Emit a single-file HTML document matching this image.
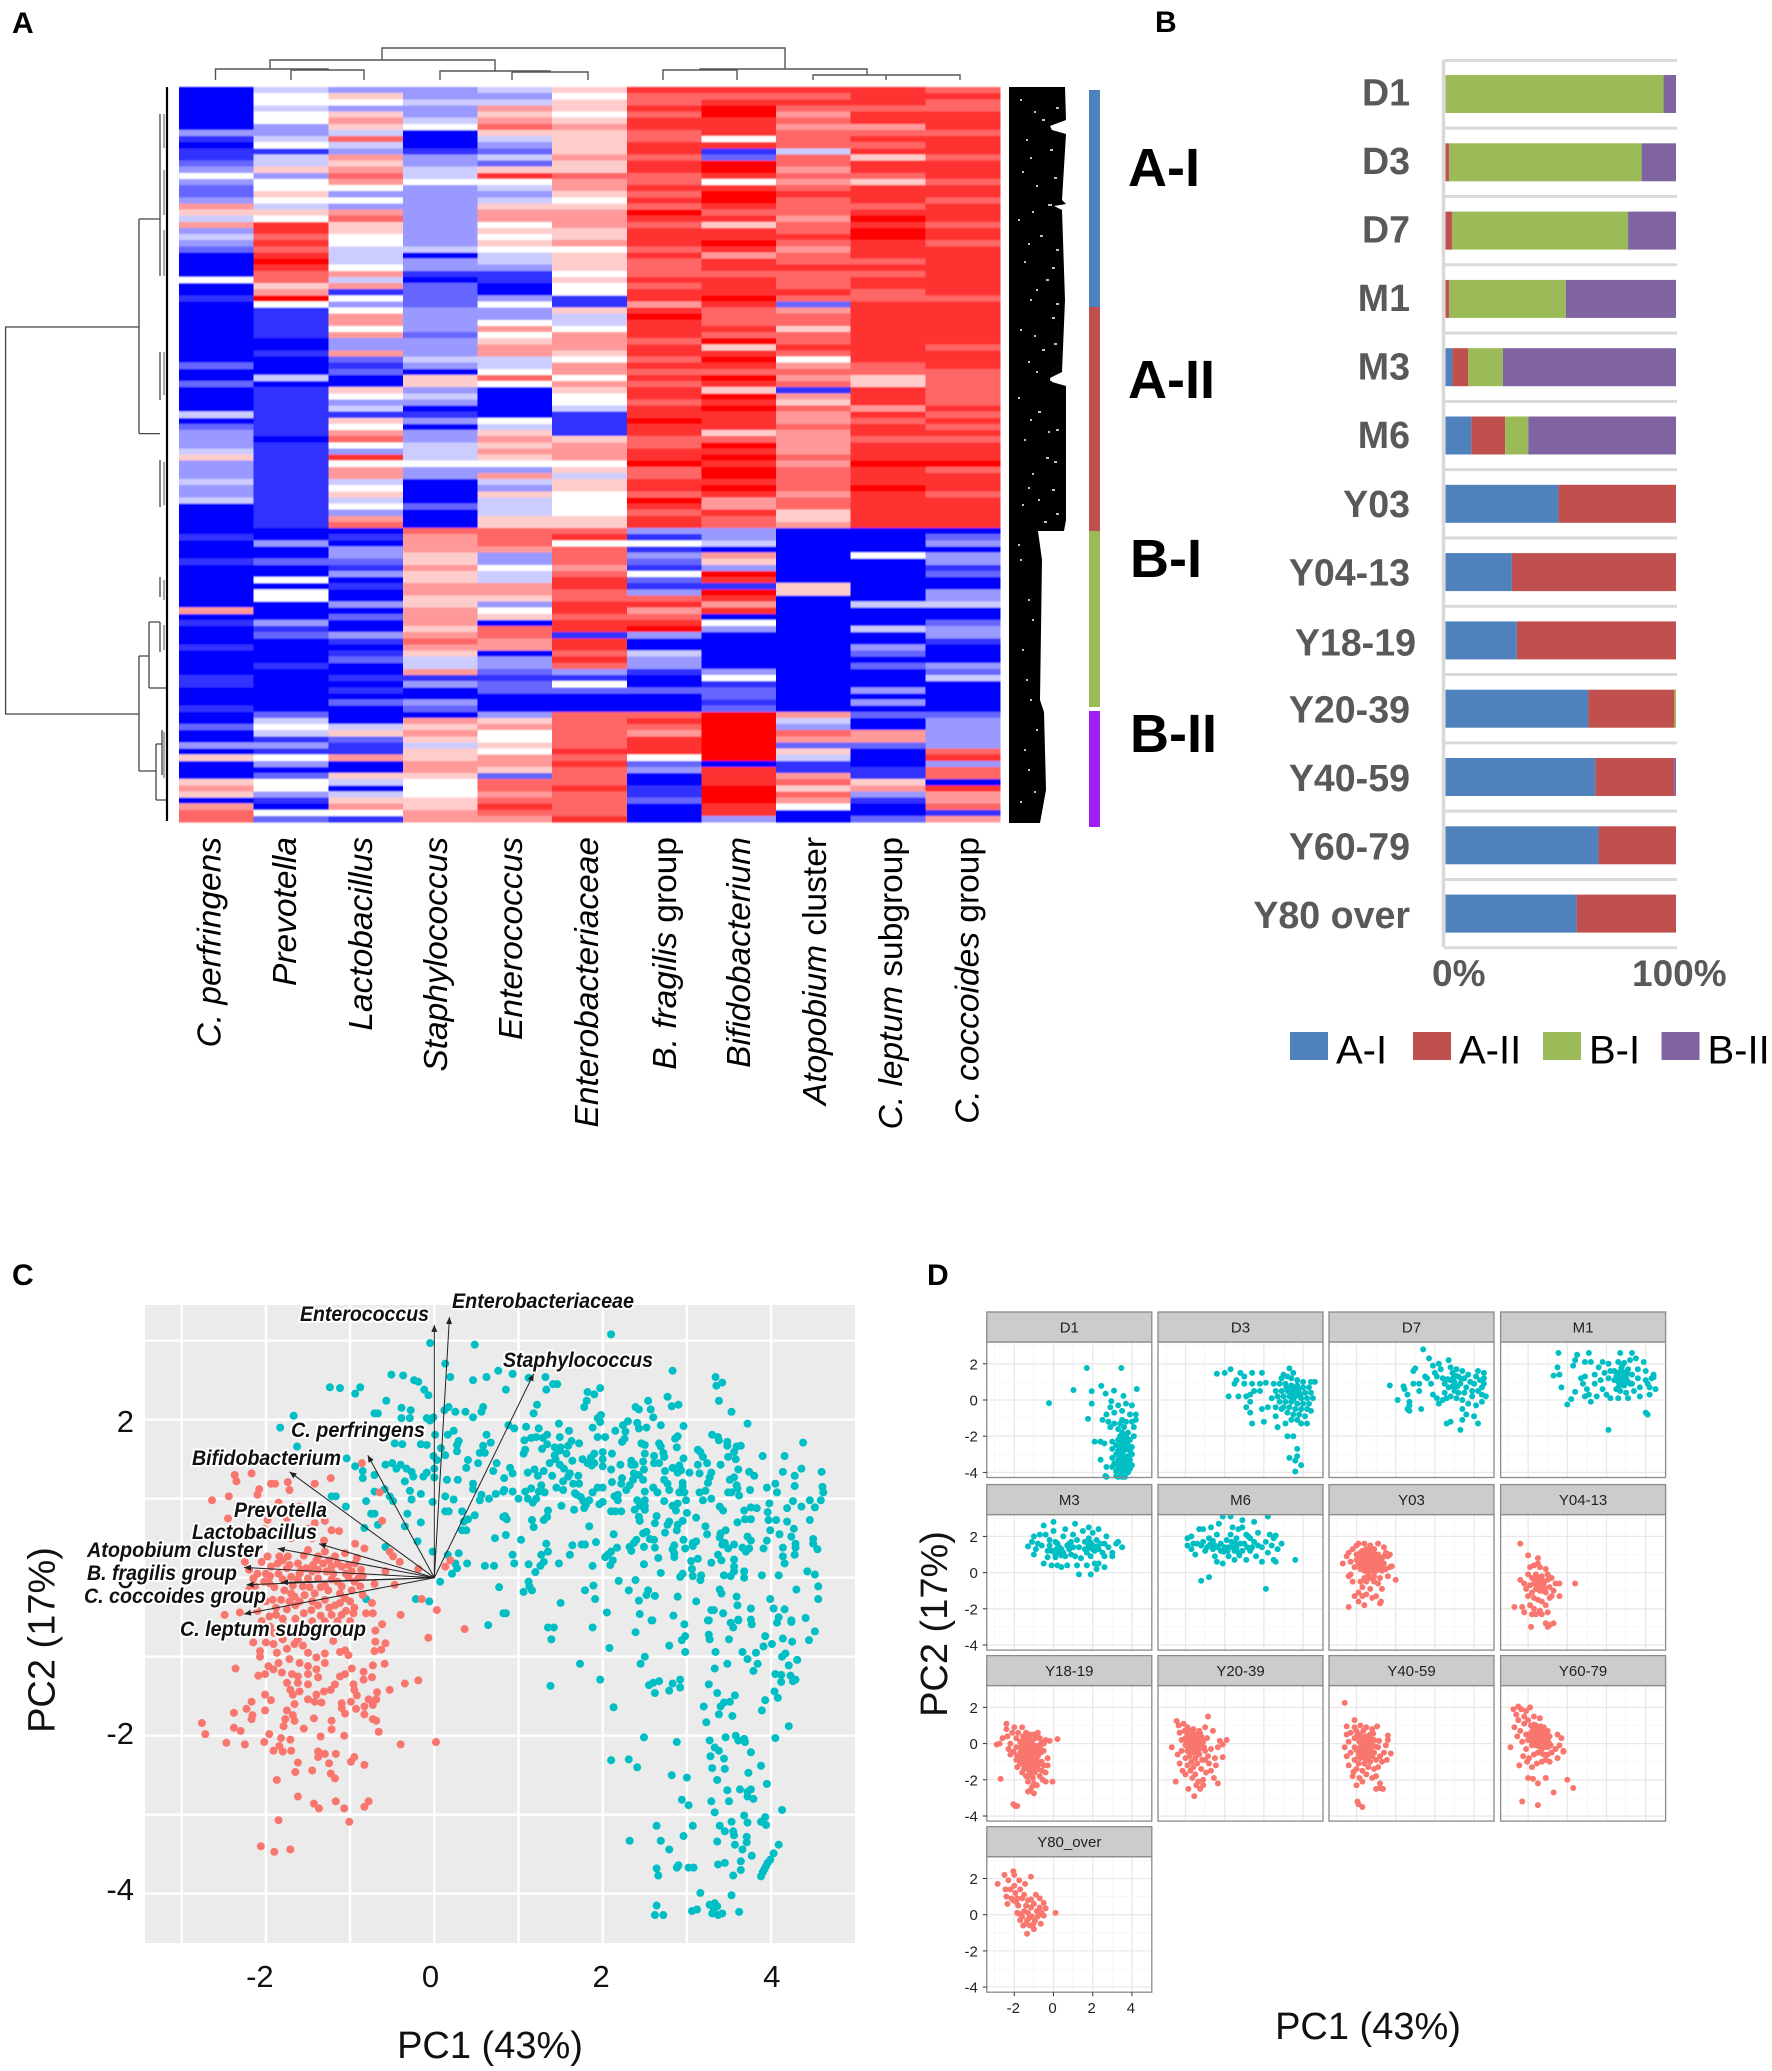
<!DOCTYPE html>
<html lang="en">
<head>
<meta charset="utf-8">
<title>Panels A-D</title>
<style>
html,body{margin:0;padding:0;background:#fff}
svg{display:block;font-family:"Liberation Sans",sans-serif}
.halo{paint-order:stroke;stroke:#fff;stroke-width:4px;stroke-linejoin:round;font-size:21px;font-weight:bold;fill:#111}
.it{font-style:italic}
.hl{font-size:33.5px;fill:#000}
.bl{font-size:37.6px;font-weight:bold;fill:#595959}
.gl{font-size:54px;font-weight:bold;fill:#000}
.lg{font-size:40px;fill:#000}
.pl{font-size:30px;font-weight:bold;fill:#000}
.ax{font-size:38px;fill:#111}
.tk{font-size:31px;fill:#111}
</style>
</head>
<body>
<svg id="fig" xmlns="http://www.w3.org/2000/svg" width="1772" height="2071" viewBox="0 0 1772 2071">
<defs>
<filter id="soft" filterUnits="userSpaceOnUse" x="170" y="80" width="840" height="750"><feGaussianBlur stdDeviation="0 0.9"/></filter>
</defs>
<rect width="1772" height="2071" fill="#fff"/>
<text class="pl" x="12" y="33">A</text>
<text class="pl" x="1155" y="32">B</text>
<text class="pl" x="12" y="1285">C</text>
<text class="pl" x="927" y="1285">D</text>

<g id="heat" filter="url(#soft)"></g>
<path fill="none" stroke="#555" stroke-width="1.4" d="M382 60V48H785V69M270 69V60H495V71M215.5 80V69H328V70M291 80V70H364V80M440 80V71H550V72M512 80V72H588V80M700 70V69H867V75M663 80V70H737V80M813 80V75H960V80M886 80V75"/>
<path fill="none" stroke="#444" stroke-width="1.3" d="M139 327H5.6V714H139M139 219V433.6M139 219H160M139 433.6H160M160 114V170M160 166V217M160 217V276M160 352V400M160 460V507M139 656V771M139 656H149M139 771H156M149 622V688M149 622H160M149 688H166M156 744V800M156 744H162M156 800H166M160 577V597M160 622V652M162 730V775"/>
<path fill="none" stroke="#000" stroke-width="2.2" d="M167 87V821"/>
<path fill="none" stroke="#aaa" stroke-width="2" d="M164 114V148M164 170V215M164 230V276M164 352V395M164 462V505M164 580V600M164 625V650M164 732V778"/>
<path fill="#000" d="M1009 87H1065L1066 120L1050 126L1052 130L1066 134L1062 200L1066 204L1054 206L1062 210L1065 300L1062 372L1050 378L1052 382L1066 386L1066 520L1064 531H1038L1042 560L1040 700L1044 712L1046 790L1040 823H1009Z"/>
<path fill="none" stroke="#fff" stroke-width="1.6" d="M1020 100h2M1042 120h3M1026 140h2M1050 150h3M1022 172h2M1036 186h2M1048 205h4M1018 220h2M1040 236h3M1056 250h3M1024 262h2M1046 280h3M1030 300h2M1052 318h3M1020 330h2M1042 350h3M1028 362h2M1050 380h4M1018 398h2M1038 412h3M1056 430h3M1024 440h2M1046 458h3M1032 474h2M1052 490h3M1022 505h2M1044 522h3M1020 560h2M1028 600h2M1022 650h2M1030 700h2M1024 750h2M1034 792h2M1028 770h2M1034 112h2M1056 108h3M1030 158h2M1054 178h3M1032 212h2M1028 244h2M1052 268h3M1036 290h2M1056 304h3M1034 336h2M1054 344h3M1036 372h2M1030 420h2M1048 432h2M1054 462h3M1028 488h2M1038 500h2M1056 514h3M1018 545h2M1032 620h2M1026 680h2M1036 730h2M1020 802h2"/>
<rect x="1089" y="90" width="11" height="217" fill="#4f81bd"/>
<rect x="1089" y="307" width="11" height="224" fill="#c0504d"/>
<rect x="1089" y="531" width="11" height="176" fill="#9bbb59"/>
<rect x="1089" y="711" width="11" height="116" fill="#a020f0"/>
<text class="gl" x="1128" y="186">A-I</text>
<text class="gl" x="1128" y="398">A-II</text>
<text class="gl" x="1130" y="577">B-I</text>
<text class="gl" x="1130" y="752">B-II</text>

<g text-anchor="end">
<text class="hl it" transform="translate(220.5,837) rotate(-90)">C. perfringens</text>
<text class="hl it" transform="translate(296,837) rotate(-90)">Prevotella</text>
<text class="hl it" transform="translate(372,837) rotate(-90)">Lactobacillus</text>
<text class="hl it" transform="translate(447,837) rotate(-90)">Staphylococcus</text>
<text class="hl it" transform="translate(522,837) rotate(-90)">Enterococcus</text>
<text class="hl it" transform="translate(598,837) rotate(-90)">Enterobacteriaceae</text>
<text class="hl" transform="translate(676,837) rotate(-90)"><tspan class="it">B. fragilis</tspan> group</text>
<text class="hl it" transform="translate(750,837) rotate(-90)">Bifidobacterium</text>
<text class="hl" transform="translate(826,837) rotate(-90)"><tspan class="it">Atopobium</tspan> cluster</text>
<text class="hl" transform="translate(902,837) rotate(-90)"><tspan class="it">C. leptum</tspan> subgroup</text>
<text class="hl" transform="translate(978.5,837) rotate(-90)"><tspan class="it">C. coccoides</tspan> group</text>
</g>

<g id="bars"></g>

<g id="pca"></g>
<g>
<text class="halo it" x="300" y="1321" textLength="129" lengthAdjust="spacingAndGlyphs">Enterococcus</text>
<text class="halo it" x="452" y="1308" textLength="182" lengthAdjust="spacingAndGlyphs">Enterobacteriaceae</text>
<text class="halo it" x="503" y="1367" textLength="150" lengthAdjust="spacingAndGlyphs">Staphylococcus</text>
<text class="halo it" x="291" y="1437" textLength="134" lengthAdjust="spacingAndGlyphs">C. perfringens</text>
<text class="halo it" x="192" y="1465" textLength="149" lengthAdjust="spacingAndGlyphs">Bifidobacterium</text>
<text class="halo it" x="234" y="1517" textLength="93" lengthAdjust="spacingAndGlyphs">Prevotella</text>
<text class="halo it" x="192" y="1539" textLength="125" lengthAdjust="spacingAndGlyphs">Lactobacillus</text>
<text class="halo it" x="87" y="1557" textLength="175" lengthAdjust="spacingAndGlyphs">Atopobium cluster</text>
<text class="halo it" x="87" y="1580" textLength="150" lengthAdjust="spacingAndGlyphs">B. fragilis group</text>
<text class="halo it" x="84" y="1603" textLength="182" lengthAdjust="spacingAndGlyphs">C. coccoides group</text>
<text class="halo it" x="180" y="1636" textLength="186" lengthAdjust="spacingAndGlyphs">C. leptum subgroup</text>
</g>
<text class="ax" transform="translate(54.5,1640) rotate(-90)" text-anchor="middle">PC2 (17%)</text>
<text class="ax" x="490" y="2058" text-anchor="middle">PC1 (43%)</text>

<g id="facets"></g>
<text class="ax" transform="translate(947,1624) rotate(-90)" text-anchor="middle">PC2 (17%)</text>
<text class="ax" x="1368" y="2039" text-anchor="middle">PC1 (43%)</text>
</svg>

<script>
/* ---------- Panel A data: one hex digit per row, 0 = blue, 5 = white, a = red ---------- */
const heatColumns = ["C. perfringens","Prevotella","Lactobacillus","Staphylococcus","Enterococcus","Enterobacteriaceae","B. fragilis group","Bifidobacterium","Atopobium cluster","C. leptum subgroup","C. coccoides group"];
const heatCPerfringens = "0000000310"+"1123532237"+"6473432000"+"0500100000"+"0000020020"+"0004023334"+"6333433400"+"0001000100"+"0000070100"+"0100001100"+"0100200306"+"0006760788";
const heatPrevotella = "4554553345"+"1446355654"+"65998989a9"+"8867a51111"+"1001000401"+"1111111011"+"1111111111"+"1100300200"+"5055000312"+"0000100000"+"0024541315"+"3025531052";
const heatLactobacillus = "3653676484"+"3767875353"+"7866554445"+"7471535775"+"7337212006"+"5341657853"+"9577456453"+"7801033213"+"0100302003"+"1012001010"+"2000462117"+"0064046751";
const heatStaphylococcus = "3343345000"+"1334453333"+"3333334033"+"1022223333"+"2333430663"+"4301303344"+"4533000020"+"0087776676"+"6776677767"+"8764471300"+"3207676466"+"7765556677";
const heatEnterococcus = "4347678643"+"2426954346"+"7756565443"+"1100353357"+"5677445850"+"0000546767"+"6537436444"+"6688873354"+"4776356088"+"7703321220"+"0036755657"+"7628878987";
const heatEnterobacteriaceae = "6566567666"+"6766877656"+"7776675666"+"5655116445"+"7776577576"+"5541111677"+"7564665555"+"6689588878"+"9988998991"+"9989831520"+"0088888898"+"9888988889";
const heatBFragilis = "9889899889"+"9899889898"+"a989998988"+"8989979a99"+"9899898989"+"9899a99889"+"9a88998a98"+"9931513215"+"21389789a3"+"0043310020"+"0089879995"+"2300112000";
const heatBifidobacterium = "989aa99959"+"12aa959aa9"+"89699a9799"+"8999a98889"+"8a69a98a96"+"a9a99968a9"+"a9aa9a9779"+"883340763a"+"91a9790530"+"0000035122"+"12aaaaaaaa"+"0999aaa993";
const heatAtopobium = "9898787888"+"4887878988"+"8788987889"+"8889827886"+"8898578781"+"7687787777"+"8788887886"+"6700000000"+"0660000000"+"0000000000"+"0074387264"+"1178687500";
const heatCLeptum = "9998997898"+"9699869998"+"9a9aa99989"+"8998899999"+"9999988669"+"9979899899"+"9a999a9999"+"9900005000"+"0000400040"+"0320200030"+"3020077200"+"0116731002";
const heatCCoccoides = "8988999899"+"9899989989"+"9989989999"+"9999899999"+"9989998888"+"8898989899"+"9a89998999"+"9902303312"+"0033400233"+"1000324000"+"0023333389"+"3880977817";

/* ---------- Panel B data (percent of samples per cluster) ---------- */
const ageGroups = ["D1","D3","D7","M1","M3","M6","Y03","Y04-13","Y18-19","Y20-39","Y40-59","Y60-79","Y80 over"];
const clusterAI  = [0,0,0,0,3,11.2,49,28.8,30.9,62,65,66.4,56.9];
const clusterAII = [0,1.5,2.8,1.5,6.9,14.7,51,71.2,69.1,37.3,34.2,33.6,43.1];
const clusterBI  = [94.6,83.6,76.4,50.7,15,10,0,0,0,0.7,0,0,0];
const clusterBII = [5.4,14.9,20.8,47.8,75.1,64.1,0,0,0,0,0.8,0,0];
const clusterNames = ["A-I","A-II","B-I","B-II"];

/* ---------- Panel C data: [PC1, PC2] ---------- */
const pcaTicksX = [-2,0,2,4];
const pcaTicksY = [-4,-2,0,2];
const loadingNames = ["Enterococcus","Enterobacteriaceae","Staphylococcus","C. perfringens","Bifidobacterium","Prevotella","Lactobacillus","Atopobium cluster","B. fragilis group","C. coccoides group","C. leptum subgroup"];
const loadingPC1 = [0,0.18,1.18,-0.79,-1.72,-1.37,-1.82,-1.86,-2.26,-2.23,-2.26];
const loadingPC2 = [3.2,3.3,2.58,1.55,1.34,0.43,-0.06,0.37,0.13,-0.09,-0.46];
const infantPoints = [[-.05,2.97],[.48,2.95],[.13,2.71],[-.51,2.57],[-.37,2.56],[-.24,2.5],[-.19,2.48],[-.12,2.38],[-.07,2.31],[.19,2.54],[.46,2.5],[.62,2.54],[.76,2.62],[-1.24,2.41],[-1.12,2.4],[-.88,2.41],[-.94,2.33],[-.57,2.24],[-.39,2.15],[-.28,2.12],[-.71,2.08],[-.67,2.08],[-1.67,2.05],[-.39,2.02],[-.29,2.02],[-.09,2.02],[-.01,2.03],[-.05,1.99],[.17,2.16],[.12,2.12],[.25,2.1],[.37,2.1],[.58,2.16],[.56,2.1],[.46,2.03],[-1.83,1.9],[.01,1.81],[.16,1.81],[.23,1.86],[.62,1.81],[.67,1.71],[.29,1.73],[.27,1.68],[.08,1.64],[.58,1.67],[-.47,1.7],[-.38,1.69],[-.16,1.69],[-.09,1.68],[.27,1.6],[.54,1.58],[.6,1.58],[-.01,1.54],[.13,1.55],[-1.63,1.66],[-1.04,1.51],[.4,1.49],[.52,1.45],[.03,1.49],[0,1.38],[.38,1.39],[.74,1.45],[.7,1.35],[-.94,1.41],[-.58,1.43],[-.5,1.45],[-.45,1.38],[-.4,1.43],[-.33,1.38],[-.27,1.34],[-.85,1.35],[-.85,1.26],[-.71,1.3],[-.09,1.33],[-.13,1.28],[0,1.27],[-.25,1.28],[-.35,1.22],[.15,1.24],[.28,1.24],[.46,1.19],[.46,1.12],[-.29,1.1],[-.16,1.06],[.56,1.05],[.65,1],[.73,1.06],[.82,1.09],[-.71,1.09],[-.59,1.12],[-.53,1.03],[-.49,.97],[-.27,.99],[.13,1.03],[.23,.99],[-.02,.96],[.54,.98],[-.81,.97],[-1.17,1.03],[-1.22,1.03],[-1.05,.9],[-.75,.81],[-.71,.81],[-.32,.81],[.13,.84],[.17,.84],[.33,.84],[.48,.79],[.4,.74],[.35,.71],[.82,.77],[-.16,.7],[-.67,.67],[-.35,.65],[-.83,.63],[.33,.6],[.38,.6],[.72,.5],[-.2,.46],[-.58,.39],[-.02,.33],[.29,.31],[.16,.29],[.39,.18],[.25,.18],[.27,.12],[.6,.15],[.71,.15],[.21,.05],[.07,-.05],[.77,-.12],[-.22,-.27],[-.06,-.3],[-.81,-.27],[.82,-.45],[.64,-.6],
[2.1,3.08],[2.83,2.62],[3.34,2.54],[3.42,2.47],[3.35,2.43],[3.38,2.24],[3.53,2.1],[3.72,1.95],[1.32,2.54],[1.12,2.53],[.93,2.58],[1.41,2.45],[1.46,2.45],[1.33,2.38],[.85,2.38],[1.97,2.4],[1.82,2.35],[1.9,2.32],[1.81,2.24],[1.78,2.16],[1.22,2.19],[1.18,2.08],[2.77,2.29],[2.54,2.24],[2.39,2.16],[2.43,2.13],[2.57,2.13],[2.82,2.17],[2.9,2.19],[2.6,2.03],[1.98,2.06],[1.94,2.02],[1.97,1.97],[1.48,1.95],[2.3,1.98],[2.24,1.93],[2.69,1.93],[2.96,1.92],[2.41,1.96],[2.43,1.89],[2.52,1.9],[1.88,1.9],[2.15,1.86],[2.27,1.85],[1.09,1.91],[1.24,1.89],[.88,1.93],[.95,1.89],[1.6,1.86],[1.34,1.81],[1.49,1.78],[1.94,1.78],[2.03,1.78],[2.89,1.79],[2.86,1.76],[3.3,1.81],[3.37,1.78],[3.38,1.74],[1.21,1.78],[1.15,1.77],[1.07,1.74],[1.29,1.77],[2.26,1.76],[2.23,1.72],[4.38,1.71],[3.48,1.72],[3.48,1.67],[2.46,1.7],[2.5,1.68],[2.67,1.7],[2.69,1.66],[2.88,1.65],[3.64,1.67],[3.59,1.66],[3.56,1.59],[3.13,1.62],[3.16,1.59],[1.34,1.69],[1.28,1.63],[1.63,1.73],[1.59,1.67],[1.72,1.7],[1.43,1.65],[1.5,1.65],[1.08,1.62],[1.06,1.57],[1.57,1.57],[1.43,1.55],[1.49,1.61],[2.11,1.57],[2,1.59],[1.9,1.57],[2.5,1.57],[2.61,1.54],[2.72,1.58],[2.73,1.53],[2.96,1.51],[3.19,1.53],[3.49,1.53],[3.58,1.5],[3.9,1.54],[4.16,1.54],[1.44,1.5],[1.64,1.48],[1.76,1.5],[1.86,1.52],[1.82,1.45],[1.9,1.45],[2,1.5],[2.34,1.48],[2.48,1.47],[2.61,1.45],[2.67,1.45],[1.37,1.45],[1.49,1.43],[1.54,1.38],[1.87,1.42],[2,1.41],[2.21,1.43],[2.34,1.43],[2.38,1.43],[3.13,1.43],[3.24,1.45],[3.4,1.43],[2.91,1.42],[2.83,1.39],[2.1,1.37],[2.49,1.37],[2.74,1.35],[2.93,1.36],[.9,1.39],[1.19,1.37],[1.3,1.35],[1.11,1.33],[.93,1.32],[3.61,1.37],[3.74,1.34],[3.8,1.29],[4.36,1.38],[4.14,1.34],[4.6,1.34],[4.28,1.29],[2.89,1.33],[3.03,1.33],[3.15,1.32],[3.29,1.33],[1.61,1.32],[1.71,1.29],[1.23,1.29],[1.4,1.29],[2.37,1.32],[2.43,1.3],[1.59,1.28],[.83,1.26],[3.27,1.27],[3.51,1.24],[3.56,1.27],[2.23,1.26],[2.48,1.24],[2.73,1.24],[3.25,1.2],[2.11,1.21],[2.36,1.24],[1.53,1.22],[1.65,1.19],[1.72,1.19],[2.95,1.2],[2.77,1.19],[3.59,1.17],[4.05,1.19],[4.28,1.16],[4.61,1.15],[1.27,1.17],[2.22,1.19],[2.32,1.17],[1.15,1.13],[1.45,1.14],[1.53,1.11],[1.94,1.14],[2,1.14],[2.6,1.14],[2.79,1.11],[2.95,1.15],[3.95,1.14],[3.75,1.11],[3.6,1.13],[.83,1.11],[.93,1.09],[1.08,1.09],[1.31,1.08],[1.24,1.09],[1.67,1.07],[1.88,1.08],[2.28,1.11],[2.5,1.09],[2.65,1.08],[2.91,1.08],[2.97,1.08],[3.15,1.08],[3.22,1.1],[3.49,1.08],[3.53,1.08],[4.07,1.08],[4.62,1.08],[2.18,1.05],[2.14,1.03],[1.69,1.05],[1.74,1.02],[3.62,1.04],[1,1],[1.11,1],[1.21,1],[1.77,.97],[1.84,.98],[2.18,.98],[2.41,.98],[2.5,.98],[2.73,.97],[2.99,.98],[3.29,1],[3.19,.98],[4.26,.97],[4.46,.98],[4.59,.98],[1.17,.95],[2,.96],[1.96,.93],[1.51,.91],[1.8,.92],[2.44,.91],[2.5,.91],[2.83,.91],[2.89,.94],[3.98,.94],[1.66,.86],[1.78,.88],[2.38,.86],[2.5,.86],[3.39,.9],[3.43,.85],[2.87,.85],[3.76,.89],[3.83,.88],[4.36,.9],[4.52,.89],[4.19,.88],[3.68,.85],[2.1,.84],[2.15,.84],[2.22,.84],[1.35,.85],[3.96,.83],[3,.82],[2.64,.78],[.84,.78],[1.34,.77],[.86,.74],[1.16,.73],[1.3,.73],[2.43,.77],[2.44,.72],[3.11,.76],[3.69,.74],[3.76,.74],[3.97,.73],[4.06,.73],[4.19,.71],[4.46,.73],[2.79,.71],[2.95,.72],[3.6,.7],[2.62,.69],[2.89,.67],[2.77,.67],[1.84,.65],[1.18,.64],[3.22,.65],[4.27,.62],[2.88,.6],[3.99,.6],[3.46,.6],[3.4,.56],[3.24,.55],[2.52,.58],[2.48,.56],[2.74,.57],[2.13,.55],[.85,.54],[4.1,.55],[3.39,.51],[3.72,.52],[4.24,.52],[2.56,.49],[2.61,.48],[2.96,.48],[1.03,.48],[4.5,.49],[3.76,.47],[2.4,.48],[1.92,.45],[3.07,.44],[3.95,.47],[1.33,.43],[3.45,.44],[3.11,.46],[2.37,.44],[4.5,.43],[1.75,.42],[1.79,.42],[1.64,.41],[4.29,.43],[3.42,.42],[3.56,.42],[2.85,.41],[2.17,.38],[2.49,.39],[2.32,.39],[2.62,.38],[3.07,.4],[3.49,.37],[3.66,.38],[4.14,.38],[3.74,.37],[4.29,.38],[2.83,.36],[2.98,.37],[3.91,.37],[4.55,.36],[2.34,.34],[2.1,.33],[1.35,.33],[3.7,.33],[2.85,.31],[3.37,.29],[1.27,.29],[1.61,.29],[.93,.29],[2.06,.29],[4.28,.29],[2.03,.26],[2.85,.26],[2.66,.25],[3.13,.24],[4.14,.27],[3.56,.23],[3.41,.22],[2.12,.22],[3.05,.21],[3.29,.19],[1.3,.2],[.95,.18],[1.12,.17],[1.48,.18],[2.49,.17],[4.16,.18],[2.09,.16],[1.26,.15],[1.88,.15],[3.56,.14],[3.06,.11],[3.56,.08],[3.68,.08],[4.43,.08],[1.2,.07],[2.69,.06],[2.95,.05],[3.17,.03],[3.44,.03],[3.52,.02],[3.89,.03],[4.09,.03],[4.52,.04],[2.92,.01],[3.07,.02],[3.68,0],[3.16,-.03],[1.12,-.05],[2.39,-.03],[2.19,-.04],[1.13,-.11],[1.89,-.1],[4.56,-.11],[3.39,-.15],[1.79,-.16],[4.3,-.15],[2.54,-.16],[2.31,-.16],[1.06,-.18],[1.16,-.16],[3.41,-.2],[2.52,-.22],[2.62,-.23],[3.59,-.24],[2.89,-.24],[1.91,-.27],[3.99,-.27],[4.56,-.27],[2.43,-.29],[3.11,-.3],[1.5,-.32],[3.6,-.35],[4.03,-.39],[3.76,-.39],[4.16,-.4],[3.32,-.41],[3.29,-.41],[3.43,-.45],[2.05,-.44],[.85,-.45],[2.44,-.46],[2.84,-.48],[4.09,-.5],[4.24,-.54],[4.41,-.51],[3.76,-.53],[3.61,-.53],[3.25,-.54],[2.58,-.54],
[1.35,-.63],[1.42,-.63],[1.39,-.78],[1.88,-.63],[2.39,-.69],[2.59,-.54],[2.97,-.59],[3.26,-.54],[3.52,-.57],[3.55,-.63],[3.61,-.54],[3.77,-.59],[4.07,-.57],[4.24,-.56],[4.52,-.68],[2.98,-.74],[2.94,-.79],[3.26,-.72],[3.27,-.78],[3.5,-.78],[3.93,-.74],[4.14,-.77],[4.25,-.81],[4.45,-.79],[4.01,-.84],[3.91,-.87],[2.79,-.86],[2.08,-.89],[2.98,-.94],[3.34,-.94],[3.66,-.94],[3.82,-.95],[4.17,-.96],[4.13,-1],[2.5,-1],[4.31,-1.04],[3.72,-1.03],[2.45,-1.09],[1.73,-1.09],[3.84,-1.09],[3.48,-1.09],[4.21,-1.11],[3.33,-1.15],[3.79,-1.18],[4.05,-1.22],[4.12,-1.23],[4.23,-1.24],[4.29,-1.29],[1.97,-1.29],[2.67,-1.31],[2.92,-1.29],[4.12,-1.32],[4.26,-1.31],[2.6,-1.33],[2.55,-1.36],[2.83,-1.34],[3.26,-1.35],[1.38,-1.37],[2.92,-1.39],[2.79,-1.43],[2.62,-1.46],[3.36,-1.46],[4.04,-1.44],[3.57,-1.49],[4.08,-1.52],[3.93,-1.55],[3.51,-1.57],[3.44,-1.58],[3.4,-1.63],[3.2,-1.63],[2.13,-1.64],[3.89,-1.68],[3.38,-1.73],[3.54,-1.75],[3.23,-1.83],[4.21,-1.88],[2.49,-2.02],[3.58,-2],[3.46,-2.02],[4.05,-2.03],[3.61,-2.06],[3.68,-2.04],[3.69,-2.08],[2.88,-2.08],[3.27,-2.06],[3.33,-2.15],[3.38,-2.19],[3.76,-2.21],[3.28,-2.26],[3.44,-2.29],[2.1,-2.31],[2.31,-2.3],[2.41,-2.4],[3.88,-2.38],[3.3,-2.41],[3.45,-2.42],[3.73,-2.47],[2.82,-2.5],[3,-2.53],[3.36,-2.56],[3.95,-2.61],[3.48,-2.69],[3.63,-2.68],[3.76,-2.68],[3.72,-2.71],[3.72,-2.77],[3.79,-2.8],[2.94,-2.81],[3.5,-2.83],[3.29,-2.83],[3.02,-2.88],[4.13,-2.94],[3.33,-2.97],[3.68,-3.01],[3.93,-3.03],[3.88,-3.09],[3.53,-3.09],[3.72,-3.1],[3.94,-3.13],[2.64,-3.14],[3.07,-3.14],[3.39,-3.14],[3.45,-3.21],[3.55,-3.21],[3.56,-3.26],[2.96,-3.27],[3.71,-3.28],[2.32,-3.33],[2.69,-3.33],[3.36,-3.34],[3.71,-3.35],[3.57,-3.38],[4.09,-3.38],[3.66,-3.44],[2.79,-3.44],[4.03,-3.49],[3.77,-3.52],[3.99,-3.57],[3.64,-3.59],[3.96,-3.61],[3.45,-3.61],[3.37,-3.63],[3.94,-3.65],[2.9,-3.64],[2.88,-3.67],[3.02,-3.67],[3.08,-3.67],[2.64,-3.68],[3.92,-3.69],[3.64,-3.7],[3.9,-3.73],[3.55,-3.77],[3.88,-3.78],[2.66,-3.77],[3.16,-3.99],[3.53,-4.02],[2.64,-4.15],[3.27,-4.14],[3.33,-4.12],[3.36,-4.16],[3.32,-4.19],[3.12,-4.2],[3.06,-4.22],[3.3,-4.25],[3.42,-4.25],[3.62,-4.23],[3.37,-4.27],[2.62,-4.27],[2.72,-4.27]];
const adultPoints = [[-2.37,1.3],[-2.17,1.32],[-2.35,1.22],[-.86,1.45],[-1.23,1.26],[-1.42,1.19],[-1.94,1.19],[-1.89,1.19],[-1.74,1.21],[-2.08,1.12],[-2.1,1.05],[-1.72,1.11],[-2.44,1.03],[-2.64,.98],[-.65,1.08],[-.62,.72],[-1.22,.6],[-1.13,.59],[-1.98,.73],[-1.42,.69],[-1.31,.47],[-.94,.43],[-.83,.37],[-.53,.33],[-.49,.27],[-.41,.2],[-.19,.11],[.13,.14],[.19,.22],[-.58,.08],[-.47,-.09],[-.71,-.08],[-.15,-.27],[.03,-.41],[-.4,-.47],[-.74,-.32],[-.81,-.45],[-.73,-.45],
[-1.5,.35],[-1.3,.33],[-1.18,.27],[-1.06,.31],[-.94,.18],[-.87,.1],[-1.02,.01],[-1.1,-.11],[-1.26,-.16],[-1.38,-.01],[-1.5,-.01],[-1.62,.18],[-1.74,.27],[-1.86,.18],[-1.98,.27],[-1.94,.14],[-2.1,.05],[-2.15,-.01],[-2.13,-.11],[-1.96,-.07],[-1.78,-.16],[-1.66,-.24],[-1.54,-.22],[-1.42,-.2],[-1.3,-.28],[-1.18,-.35],[-1.06,-.26],[-.98,-.16],[-.88,-.11],[-1.82,-.28],[-1.7,-.2],[-1.92,-.28],[-1.96,-.49],[-1.88,-.47],[-2.31,-.44],[-2.49,-.47],[-1.46,-.41],[-1.22,-.47],[-1.1,-.47],[-.96,-.45],[-1.58,.1],[-1.7,.01],[-1.44,.16],[-1.32,.18],[-1.1,.14],[-.98,.08],[-1.56,-.11],[-1.22,.14],[-1.38,.27],[-1.84,.27],[-1.6,.05],[-1.45,.08],[-1.2,.05],[-1.75,.12],[-2,.05],[-1.9,-.12],[-2.05,-.2],[-1.65,-.35],[-1.3,-.1],[-1.15,-.05],[-.9,0],[-1,-.3],[-1.38,-.35],[-1.05,-.42],[-1.75,-.4],[-1.55,-.45],[-1.35,-.48],[-2.15,-.25],[-2.2,.1],
[-2.25,.2],[-2.2,-.15],[-2.05,.2],[-2.02,-.05],[-1.95,.02],[-1.85,.05],[-1.8,.22],[-1.8,-.02],[-1.72,.16],[-1.68,-.1],[-1.62,-.02],[-1.55,.28],[-1.52,.12],[-1.48,-.12],[-1.4,.22],[-1.38,.1],[-1.35,-.12],[-1.28,.08],[-1.25,.22],[-1.22,-.02],[-1.15,.18],[-1.12,-.2],[-1.05,.05],[-1.02,.16],[-.95,-.05],[-.92,.25],[-.85,.02],[-2,-.3],[-1.88,-.38],[-1.72,-.3],[-1.6,-.3],[-1.45,-.3],[-1.25,-.38],[-1.12,-.32],[-.95,-.38],[-.85,-.22],[-2.1,-.42],[-1.8,-.52],[-1.65,-.52],[-1.45,-.55],[-1.3,-.55],[-1.15,-.55],[-1,-.55],[-2.05,-.55],[-1.95,-.62],[-1.58,-.62],[-1.4,-.72],[-1.2,-.8],[-1.62,-.78],[-1.8,-.78],[-2,-.82],[-2.02,.62],[-1.75,.75],[-1.6,.9],[-1.5,.62],[-1.3,.72],[-1.85,.95],[-2.15,.55],[-1.7,.5],[-1.45,.5],[-2.45,.75],[-1.9,.55],[-1.55,.55],
[-.62,-.59],[-.7,-.67],[-.7,-.81],[-.58,-.83],[-.71,-.93],[-.63,-.91],[-.07,-.76],[.36,-.65],[-2.15,-.82],[-2.07,-.93],[-2.07,-1],[-1.91,-.84],[-1.87,-.95],[-1.75,-.9],[-1.66,-.84],[-1.56,-.86],[-1.5,-.95],[-1.4,-1.01],[-1.3,-.96],[-1.12,-.94],[-1.06,-.92],[-1.02,-.98],[-1.3,-1.08],[-1.72,-1.03],[-1.85,-1.08],[-1.97,-1.12],[-1.91,-1.16],[-2.36,-1.15],[-2.09,-1.24],[-2.01,-1.22],[-1.81,-1.2],[-1.69,-1.22],[-1.6,-1.08],[-1.5,-1.12],[-1.4,-1.16],[-1.38,-1.26],[-1.62,-1.25],[-1.5,-1.22],[-1.75,-1.33],[-1.62,-1.33],[-1.5,-1.35],[-1.71,-1.42],[-1.6,-1.44],[-1.68,-1.48],[-1.18,-1.35],[-1.23,-1.42],[-1.31,-1.44],[-1.06,-1.22],[-1.12,-1.25],[-.98,-1.15],[-.84,-1.19],[-.74,-1.26],[-.84,-1.29],[-.73,-1.11],[-.59,-1.09],[-.96,-1.35],[-.95,-1.42],[-.92,-1.49],[-.68,-1.45],[-.53,-1.42],[-.35,-1.34],[-.19,-1.3],[-.78,-1.54],[-.69,-1.54],[-.73,-1.61],[-.99,-1.57],[-1.1,-1.59],[-1.1,-1.65],[-1.06,-1.72],[-.93,-1.66],[-.83,-1.63],[-.83,-1.73],[-.73,-1.79],[-.69,-1.81],[-.66,-1.95],[-1.4,-1.48],[-1.5,-1.54],[-1.42,-1.57],[-1.34,-1.58],[-1.66,-1.6],[-1.75,-1.68],[-1.68,-1.74],[-1.77,-1.79],[-1.66,-1.81],[-1.79,-1.88],[-1.43,-1.78],[-1.22,-1.81],[-1.22,-1.92],[-1.55,-1.91],[-2.01,-1.48],[-1.94,-1.55],[-2.17,-1.57],[-2.23,-1.66],[-2.38,-1.71],[-2.01,-1.68],[-2.16,-1.74],[-2.17,-1.79],[-2.76,-1.84],[-2.38,-1.9],[-2.3,-1.94],[-2.72,-1.98],[-2.47,-2.09],[-2.25,-2.11],[-2.02,-2.08],[-1.96,-1.98],[-1.82,-2.03],[-1.71,-2.05],[-1.35,-2.01],[-1.07,-2],[-.4,-2.11],[.02,-2.08],[-1.91,-2.19],[-1.84,-2.13],[-1.8,-2.2],[-1.7,-2.19],[-1.38,-2.2],[-1.38,-2.27],[-1.3,-2.23],[-1.17,-2.23],[-.95,-2.27],[-.99,-2.33],[-.83,-2.37],[-1.25,-2.35],[-1.62,-2.34],[-1.45,-2.44],[-1.65,-2.46],[-1.23,-2.48],[-1.18,-2.54],[-1.87,-2.56],[-1.62,-2.77],[-1.43,-2.86],[-1.37,-2.92],[-1.17,-2.83],[-1.07,-2.92],[-.83,-2.9],[-.78,-2.83],[-1.85,-3.07],[-1.01,-3.09],[-2.06,-3.4],[-1.9,-3.47],[-1.71,-3.44],[-1.9,-.7],[-1.7,-.65],[-1.5,-.7],[-1.3,-.65],[-1.1,-.7],[-.9,-.62],[-2.1,-.7],[-1.8,-.6]];

/* ---------- Panel D data: [PC1, PC2] per age facet ---------- */
const facetNames = ["D1","D3","D7","M1","M3","M6","Y03","Y04-13","Y18-19","Y20-39","Y40-59","Y60-79","Y80_over"];
const facetTicksX = [-2,0,2,4];
const facetTicksY = [2,0,-2,-4];
const facetD1 = [[-.23,-.17],[1.7,1.77],[3.46,1.77],[1.02,.55],[2.44,.78],[1.95,.49],[4.25,.61],[2.66,.35],[3.09,.52],[3.57,.23],[1.95,-.2],[2.95,-.06],[1.76,-1.04],[2.9,-.4],[3.3,-.3],[3.7,-.2],[4,-.3],[3.5,-.6],[3.1,-.7],[2.7,-.8],[3.9,-.8],[4.2,-.8],[4.2,-1.1],[2.5,-1.1],[2.8,-1.2],[3.1,-1.3],[3.4,-1.3],[3.7,-1.2],[4,-1.2],[4.1,-1.5],[3.6,-1.5],[3.3,-1.6],[2.9,-1.5],[3.5,-1.8],[3.8,-1.8],[3.4,-2],[3.7,-2],[4.1,-2],[3.3,-2.2],[3.6,-2.2],[3.9,-2.2],[2.1,-2.3],[2.4,-2.3],[2.6,-2.4],[3,-2.3],[3.2,-2.5],[3.5,-2.5],[3.8,-2.5],[4,-2.6],[3,-2.7],[3.3,-2.8],[3.6,-2.8],[3.9,-2.8],[3.2,-3],[3.5,-3],[3.8,-3.1],[4,-3],[2.4,-3.3],[3,-3.2],[3.3,-3.3],[3.6,-3.3],[3.9,-3.3],[3.1,-3.5],[3.4,-3.6],[3.7,-3.6],[4,-3.6],[2.7,-3.7],[3,-3.7],[3.3,-3.8],[3.6,-3.8],[3.9,-3.8],[3.2,-3.95],[3.5,-4],[3.8,-4],[2.65,-4.2],[2.7,-4.25],[3.2,-4.2],[3.3,-4.25],[3.4,-4.2],[3.5,-4.25],[3.65,-4.25],[3.6,-2.4],[3.5,-1.1],[3.45,-2.3],[3.75,-2.3],[3.55,-2.65],[3.35,-2.6],[3.75,-2.65],[3.45,-3.15],[3.7,-3.15],[3.55,-3.45],[3.25,-3.55],[3.85,-3.45]];
const facetD3 = [[-.4,1.45],[0,1.5],[.3,1.7],[.8,1.5],[.6,1.1],[1,1.3],[1.4,1.5],[1.9,1.5],[.5,.9],[1,.9],[1.4,.9],[1.8,.9],[2.1,.95],[.2,.2],[.7,.2],[1.1,.2],[1.3,.3],[1.5,.5],[1.8,.5],[1.3,-.1],[1.1,-.4],[1.3,-.7],[1.4,-1.3],[1.9,-.5],[2.2,-.4],[2,-1.2],[2.6,-.9],[2.9,-.5],[2.7,-1.5],[3.1,-1.3],[3.2,-2],[3.5,-2],[3.7,-2.7],[3.7,-3.1],[3.3,-3.2],[3.9,-3.6],[3.6,-3.35],[3.6,-3.95],[3.3,1.75],[3.5,1.5],[3,1.4],[3.2,1.3],[2.9,1.2],[3.4,1.2],[3.7,1.1],[4,1],[4.4,1],[4.6,1],[2.5,.9],[2.8,.9],[3.1,.9],[3.4,.8],[3.7,.8],[4,.7],[4.3,.7],[2.6,.5],[2.9,.5],[3.2,.5],[3.5,.5],[3.8,.4],[4.1,.4],[4.4,.4],[2.4,.1],[2.7,.2],[3,.2],[3.3,.2],[3.6,.2],[3.9,.1],[4.2,.1],[4.5,.1],[2.8,-.1],[3.1,-.1],[3.4,-.1],[3.7,-.2],[4,-.2],[4.3,-.2],[2.6,-.4],[3,-.4],[3.3,-.4],[3.6,-.5],[3.9,-.5],[4.2,-.5],[3.2,-.7],[3.5,-.8],[3.8,-.8],[4.1,-.9],[4.4,-.6],[3.4,-1.1],[3.7,-1.1],[4.2,-1.3],[3.9,-1.3],[3.55,.65],[3.65,.35],[3.45,.35],[3.3,.65],[3.75,.6],[3.5,.05],[3.15,.7],[3.85,.25]];
const facetD7 = [[-.3,.8],[.1,0],[.4,.75],[.45,.6],[.6,.3],[.7,-.1],[.7,-.3],[.6,-.5],[.7,-.6],[.9,.9],[.9,1.6],[1,1.75],[1.2,.9],[1.2,.5],[1.3,-.5],[1.4,2.8],[1.5,1.3],[1.6,1.2],[1.7,2.3],[1.9,1.9],[2,1.5],[2.2,2],[2.1,1.3],[2.3,1.7],[2.4,1.2],[2.5,.9],[1.8,.9],[1.9,.3],[2.1,.1],[2.2,-.2],[2.4,0],[2.5,.4],[2.7,.7],[2.8,1.1],[2.9,1.5],[3,1],[3,.5],[2.8,.2],[2.6,.1],[2.7,2.2],[2.8,1.8],[3.1,1.7],[3.2,1.3],[3.3,.9],[3.2,.4],[3.1,.1],[3.4,1.6],[3.5,1.2],[3.6,.7],[3.5,.4],[3.4,0],[3.7,1.4],[3.8,1],[3.9,.5],[4,.9],[4.1,1.3],[4.2,1.6],[4.3,1.1],[4.4,.7],[4.5,1.2],[4.5,.9],[4.5,1.5],[4.2,.5],[3.9,.2],[4.4,.3],[4.6,.2],[4.4,-.1],[2.6,-1.3],[2.8,-1.2],[3.4,-.5],[3.6,-.8],[3.4,-1.1],[4,-.9],[4.1,-.3],[3.3,-1.65],[4.2,-1.3],[3.7,-.2],[2.95,1.25],[3.15,.75],[2.65,1.15],[3.35,1.15],[2.9,.75],[3.05,1.35]];
const facetM1 = [[-.7,1.35],[-.45,2.6],[-.5,1.8],[-.4,1.4],[-.3,.7],[0,-.25],[.2,.05],[.4,.45],[.4,2.2],[.5,2.5],[.7,1.2],[.3,1.9],[1.1,2.6],[.9,2.1],[1.2,2.1],[1.4,1.4],[.9,1.3],[.8,.9],[1,.6],[.9,.2],[1.1,.3],[1.2,-.1],[1.4,.9],[1.5,.2],[1.6,1.8],[1.8,2.1],[1.9,1.5],[1.7,1.1],[1.8,.6],[2,.3],[2.2,.1],[2.1,2],[2.2,1.6],[2.4,1.1],[2.5,.6],[2.6,.1],[2.6,2.1],[2.7,2.6],[2.6,1.5],[2.8,1.9],[2.9,1.3],[2.9,.8],[3,.4],[3.1,.1],[3.1,1.7],[3.2,2.2],[3.3,2.6],[3.3,1.4],[3.3,.9],[3.4,.5],[3.5,2.3],[3.6,1.7],[3.6,1.2],[3.7,.7],[3.7,.2],[3.9,2.1],[4,1.6],[4,1.1],[4.2,.7],[4.2,.3],[4.4,1.4],[4.1,.9],[2.8,1.6],[2.4,1.6],[2.1,1.2],[2.6,1],[3,1.2],[3.2,.9],[2.9,1.5],[2.7,.5],[4,-.7],[4.3,1.2],[4.4,1.25],[4.5,.6],[2.1,-1.65],[4.1,-.8],[2.7,1.25],[2.85,1.05],[2.5,1.3],[3.05,1.45],[2.65,.8],[3.1,1],[2.75,1.75],[2.9,2.05]];
const facetM3 = [[-1.3,1.45],[-1.1,1.7],[-1,2],[-.9,1.3],[-1,1],[-.6,1.5],[-.7,2.1],[-.5,2.6],[-.4,2.1],[-.2,1.8],[-.3,1.2],[-.5,.5],[-.3,.85],[-.1,.4],[0,2.8],[0,2.3],[.1,1.7],[.1,1],[.2,.4],[.4,.3],[.4,1.3],[.5,2],[.6,2.4],[.6,.9],[.7,.4],[.8,1.6],[.9,1],[1,2.1],[1.1,2.7],[1.1,.9],[1.2,.4],[1.3,1.4],[1.5,2.3],[1.4,.8],[1.6,1.7],[1.7,1.1],[1.3,-.1],[1.7,.4],[1.8,2.5],[1.8,1.5],[1.9,.9],[2,2.2],[2.1,1.2],[2.1,.5],[2.2,.2],[2.2,1.8],[2.3,2.4],[2.4,1.6],[2.5,1.1],[2.6,.9],[2.6,.3],[2.7,2],[2.8,1.4],[3,1.1],[3,.9],[3.2,1.6],[3.3,1.7],[3.5,1.4],[.7,1.5],[1,1.4],[1.2,1.8],[-.2,1.5],[.3,1.4],[-.1,1.2],[1.6,1.3],[2,1.5],[2.3,1.3],[1.9,-.1],[2.3,.5],[.8,1.3],[.9,1.7],[1.8,1.9],[-.8,1.6],[.1,.85],[.4,.95],[2.6,1.6],[.25,1.15],[.5,1.1],[.2,1.6],[1.75,1.35],[2,1.3],[1.9,1.65],[2.2,1.45],[.15,1.3]];
const facetM6 = [[-1.9,1.9],[-1.9,1.5],[-1.7,2],[-1.7,1.3],[-1.5,1],[-1.3,2.4],[-1.1,2.4],[-1.1,1.7],[-1,1.2],[-1.2,-.45],[-.8,-.25],[-.8,1.9],[-.7,2.5],[-.5,1.5],[-.4,.6],[-.4,2.1],[-.1,3.1],[-.3,2.7],[-.2,1.2],[.1,1.8],[.2,.9],[.3,2.1],[.3,3.1],[.4,1.4],[.5,.7],[.6,1.9],[.7,2.4],[.7,1.1],[.9,2.9],[.9,2.5],[1,1.6],[1.1,.7],[1.2,2],[1.3,1.2],[1.5,1.7],[1.5,2.8],[1.6,.9],[1.7,2.2],[1.9,1.4],[1.9,.6],[2.1,1.7],[2.2,1.1],[2.2,3.1],[2.3,2.1],[2.4,1.5],[2.5,.7],[2.6,2.05],[2.7,1.3],[2.5,1.9],[2.9,1.6],[2.6,.6],[3.6,.7],[2.1,-.9],[-.6,1.3],[-.2,1.6],[0,1.4],[.5,1.2],[.8,1.6],[.2,1.4],[-1.4,1.6],[-1.2,1.5],[-.9,1.4],[1.4,1.4],[1.7,1.5],[.4,2.5],[1.1,2.1],[-.5,.9],[-.1,.5],[.6,1.35],[-1.6,1.6],[.9,1.2],[1.3,1.9],[-.05,1.15],[.15,1.2],[.35,1.7],[.55,1.6],[-.35,1.4],[-.75,1.55],[-.6,1.75],[1.15,1.4],[.75,.95]];
const facetY03 = [[-2.7,.5],[-2.5,.9],[-2.4,1.1],[-2.3,.6],[-2.2,1.3],[-2.1,.3],[-2,1],[-2,1.5],[-1.9,1.6],[-1.8,.8],[-1.8,.4],[-1.7,1.2],[-1.6,1.6],[-1.6,.1],[-1.5,.7],[-1.5,.3],[-1.4,1],[-1.4,-.1],[-1.3,1.5],[-1.3,.5],[-1.2,.2],[-1.2,.9],[-1.1,1.3],[-1.1,-.2],[-1,.6],[-1,.1],[-.9,1],[-.9,1.6],[-.8,.3],[-.8,-.3],[-.7,.8],[-.7,.1],[-.6,.5],[-.5,1.1],[-.5,.2],[-.4,-.2],[-.3,.3],[-.6,.9],[-.6,1.4],[-2.3,-.1],[-2.4,-.2],[-2.2,-.5],[-2.1,-1.3],[-2.4,-1.9],[-1.9,-1.1],[-1.9,-1.6],[-1.8,-.5],[-1.7,-.8],[-1.7,-1.3],[-1.6,-1.8],[-1.5,-1.2],[-1.5,-.5],[-1.3,-.9],[-1.2,-1.4],[-1.1,-.5],[-1,-1.3],[-.9,-.6],[-.8,-1.7],[-.7,-.9],[-.75,-1.6],[0,-.4],[-.4,.9],[-.3,1],[-1.2,.6],[-1.4,.4],[-1.6,.5],[-1.8,.2],[-1,.9],[-.8,.7],[-1.3,.1],[-1.1,.35],[-1.7,.7],[-1.5,1],[-.9,.35],[-1.9,.5],[-1.35,.75],[-1.05,.75],[-.75,.5],[-1.6,.95],[-1.2,1.2],[-2,.7],[-.2,.35],[-1.05,.2],[-1.3,-.3],[-1.6,-.3],[-1.55,.85],[-1.25,.85],[-1.45,.6],[-1.15,.5],[-.95,.7],[-1.75,.5],[-1.3,.3],[-1.65,.25],[-1.45,.15],[-1.1,.05],[-.85,.5],[-1,.35],[-1.25,1.05],[-1.5,1.3],[-1.8,1.1],[-1.1,1.05],[-.7,.35],[-1.35,.55],[-1.2,.4],[-1.55,.45],[-.95,.5],[-1.4,1.25]];
const facetY0413 = [[-2.4,1.6],[-2,.95],[-1.5,.8],[-1.5,.5],[-1.9,.3],[-1.7,.4],[-1.4,.3],[-1.1,.2],[-2.4,-.4],[-2.2,-.6],[-2,-.1],[-1.8,-.3],[-1.6,-.1],[-1.3,-.2],[-1,-.4],[-.8,-.3],[-.6,-.6],[-.4,-.6],[-1.9,-.7],[-1.7,-.6],[-1.5,-.5],[-1.2,-.6],[-.9,-.8],[-.7,-1],[-.4,-1.3],[-2.1,-.9],[-1.8,-1.1],[-1.6,-.9],[-1.4,-1],[-1.1,-1.1],[-2,-1.3],[-1.7,-1.4],[-1.5,-1.5],[-1.3,-1.6],[-.9,-1.4],[-2.7,-1.9],[-2.3,-1.9],[-2.2,-2.2],[-1.9,-1.8],[-1.7,-2],[-1.6,-2.3],[-1.4,-2.1],[-1.3,-2.3],[-1.1,-1.8],[-1,-2.2],[-1.8,-2.3],[-1.85,-3],[-1.1,-2.8],[-1,-3],[-.9,-2.9],[-.7,-2.8],[.4,-.6],[-1.3,-.4],[-1,-.1],[-.8,-1.3],[-1.55,-.25],[-1.35,-.7],[-1.15,-.85],[-1.65,-.35],[-1.25,-1],[-1.5,-.75]];
const facetY1819 = [[-2.9,-.05],[-2.75,0],[-2.7,-1.95],[-2.6,.3],[-2.4,1.1],[-2.4,.8],[-2.35,.4],[-2.3,-.3],[-2.2,0],[-2.2,-.6],[-2.1,.6],[-2.05,-3.35],[-1.95,-3.45],[-1.85,-3.45],[-2,.9],[-1.9,.3],[-1.9,-.2],[-1.9,-.9],[-1.85,-1.3],[-1.8,.6],[-1.7,.1],[-1.7,-.5],[-1.7,-1.1],[-1.6,.9],[-1.6,-1.6],[-1.55,.4],[-1.5,-.1],[-1.5,-.8],[-1.5,-1.4],[-1.45,.2],[-1.4,.6],[-1.4,-.4],[-1.4,-1.1],[-1.4,-1.8],[-1.3,-2.1],[-1.35,0],[-1.3,-.7],[-1.25,-1.5],[-1.2,.5],[-1.2,-.2],[-1.2,-1],[-1.2,-2.6],[-1.1,-2.4],[-1.15,.2],[-1.1,-.5],[-1.1,-1.3],[-1.05,-1.9],[-1,-2.2],[-1,.5],[-1,-.1],[-1,-.8],[-1,-2.75],[-1.3,-2.65],[-.95,-1.6],[-.9,.3],[-.9,-.4],[-.9,-1.1],[-.85,-2.3],[-.8,.6],[-.8,-.7],[-.8,-1.4],[-.75,-.1],[-.7,-1.8],[-.7,.3],[-.65,-.5],[-.6,-1],[-.6,-1.5],[-.55,-2],[-.5,0],[-.5,-.4],[-.5,-1.2],[-.4,-2.1],[-.4,.2],[-.4,-1.6],[-.3,-.8],[-.3,-1.2],[-.2,.15],[-.05,-2.1],[.2,.25],[-1.6,-.3],[-1.6,-.9],[-1.3,-.3],[-1.5,-.55],[-1.25,-1.25],[-1.1,-.9],[-1.35,-.9],[-1.15,-.7],[-.95,-.55],[-1.7,-.2],[-1.25,.05],[-1.45,-.65],[-.85,-.95],[-.75,-1.15],[-1.55,-1.15],[-1.05,-1.1],[-1.3,.3],[-.7,-.2],[-.6,.05],[-1.85,-.65],[-2.05,-.45],[-1.45,-.25],[-1.2,-.45],[-1,-.35],[-1.3,-1.05],[-1.55,-.4],[-1.75,-.8],[-1.2,-1.5],[-1,-1.5],[-.85,-1.25],[-1.3,-1.8],[-1.1,-1.7],[-1.4,-1.3],[-1.65,-.7],[-.9,-.2],[-1.1,.1],[-1.4,.2],[-1.6,.1],[-.75,-.45],[-1.5,-.95],[-1.2,-.75]];
const facetY2039 = [[-2.7,-.2],[-2.5,-2.1],[-2.45,1.25],[-2.35,1],[-2.3,.6],[-2.4,-.6],[-2.3,-1.1],[-2.2,.2],[-2.2,-.4],[-2.15,-1.5],[-2.1,1.1],[-2.05,.7],[-2,.3],[-2,-.1],[-2,-.8],[-2,-1.7],[-1.9,.9],[-1.9,.5],[-1.9,-.4],[-1.9,-1.2],[-1.85,-2.5],[-1.8,.2],[-1.8,.7],[-1.8,-.7],[-1.75,-1.5],[-1.7,.4],[-1.7,0],[-1.7,-.3],[-1.7,-1],[-1.65,-1.9],[-1.6,.8],[-1.6,.2],[-1.6,-.5],[-1.6,-1.3],[-1.55,-2.9],[-1.5,.5],[-1.5,-.1],[-1.5,-.8],[-1.5,-1.7],[-1.45,-2.3],[-1.4,.3],[-1.4,-.3],[-1.4,-1.1],[-1.35,-2.1],[-1.3,.7],[-1.3,.1],[-1.3,-.6],[-1.2,-1.4],[-1.25,-2.5],[-1.2,.4],[-1.2,-.1],[-1.15,-.9],[-1.1,-2.3],[-1.1,-2],[-1.1,.1],[-1,.9],[-1,-.4],[-1,-.9],[-.95,-1.6],[-.9,.3],[-.85,1.5],[-.85,-.7],[-.8,-1.1],[-.7,-1.5],[-.7,-.3],[-.6,.7],[-.55,-1.9],[-.5,-.8],[-.45,-1.2],[-.35,-2.2],[-.25,.15],[-.1,-.75],[.1,.2],[-.1,-.05],[-.35,-.2],[-1.65,.55],[-1.45,.05],[-1.75,.15],[-1.55,-.25],[-1.35,-.5],[-1.25,-.25],[-1.75,-.5],[-1.15,.2],[-1.05,-.2],[-1.85,.35],[-1.95,.1],[-1.85,-.1],[-1.65,-.15],[-1.45,-.45],[-1.5,.2],[-1.35,.45],[-1.6,.35],[-1.8,-.2],[-1.25,.55]];
const facetY4059 = [[-2.6,2.25],[-2.6,-.2],[-2.5,.95],[-2.5,.5],[-2.5,-.7],[-2.4,-1.2],[-2.4,.1],[-2.3,.6],[-2.3,-.5],[-2.2,-1.8],[-2.15,-1.55],[-2.1,1.3],[-2.1,.9],[-2.1,.3],[-2.1,-.2],[-2.1,-.9],[-2,.7],[-2,-1.4],[-2,-2.3],[-1.95,-3.2],[-1.9,-3.35],[-1.9,.2],[-1.9,-.5],[-1.9,-1.1],[-1.85,-1.9],[-1.8,1],[-1.8,.5],[-1.8,-.2],[-1.8,-.8],[-1.7,-3.5],[-1.7,.3],[-1.7,-1.5],[-1.7,-2.1],[-1.65,.7],[-1.6,0],[-1.6,-.5],[-1.6,-1.1],[-1.5,.4],[-1.5,-.9],[-1.5,-1.7],[-1.5,.9],[-1.4,.1],[-1.4,-.3],[-1.4,-1.3],[-1.35,-.7],[-1.3,.5],[-1.3,-1],[-1.2,-.1],[-1.2,-1.9],[-1.2,.8],[-1.1,-.5],[-1.1,-1.4],[-1.1,.2],[-1,-.9],[-1,-1.8],[-1,-2.5],[-.95,.95],[-.9,-.2],[-.9,-1.3],[-.8,-2.2],[-.8,-2.45],[-.8,-.7],[-.7,-1],[-.65,-2.5],[-.6,-.5],[-.5,-.1],[-.4,.2],[-.45,-.9],[-.4,.45],[-.25,-.55],[-1.85,.1],[-1.7,-.3],[-1.55,-.2],[-1.45,-.6],[-1.25,.25],[-1.25,-.4],[-1.75,-.6],[-1.95,.5],[-.85,.15],[-1.05,-.15],[-1.15,.55],[-1.65,-.75],[-1.3,-.55],[-1.5,.1],[-1.75,-.05],[-2,-.35],[-1.35,-.15],[-1.5,-.35],[-1.2,-.7],[-1.9,-.7]];
const facetY6079 = [[-2.9,-.2],[-2.75,1.9],[-2.7,.9],[-2.6,1.6],[-2.55,.4],[-2.5,2.05],[-2.5,1.3],[-2.45,-1.2],[-2.4,.7],[-2.35,1.9],[-2.3,-3.2],[-2.3,.1],[-2.25,-.7],[-2.2,1.5],[-2.2,1.1],[-2.1,1.8],[-2.1,.5],[-2.1,-.3],[-2.05,-1],[-2,-1.9],[-2,1.3],[-2,.2],[-1.95,-.8],[-1.9,2],[-1.85,1],[-1.85,.6],[-1.8,-.1],[-1.8,-1.3],[-1.75,-1.95],[-1.7,1.5],[-1.7,.3],[-1.7,-.6],[-1.6,1],[-1.6,.7],[-1.6,-.1],[-1.55,-1.1],[-1.5,-3.4],[-1.5,.4],[-1.5,-.5],[-1.5,-2.2],[-1.4,1.4],[-1.4,.8],[-1.4,.1],[-1.3,-.3],[-1.3,-1],[-1.2,.5],[-1.2,.9],[-1.2,-.6],[-1.1,.2],[-1.1,-.9],[-1.1,-1.9],[-1,.7],[-1,-.2],[-1,-.6],[-.9,.4],[-.9,-1],[-.85,-.1],[-.8,-.5],[-.7,-2.7],[-.6,-.3],[-.5,.5],[-.5,-.8],[-.4,-.1],[-.3,.3],[-.2,-.4],[0,-2],[-.2,-.45],[.3,-2.45],[-1.75,.05],[-1.55,.25],[-1.45,.6],[-1.9,.45],[-1.35,.35],[-1.15,.05],[-1.65,.45],[-1.85,.15],[-1.25,.7],[-1.05,.5],[-.95,.05],[-1.3,.1],[-1.5,.75],[-1.75,.8],[-1.35,.95],[-1.1,.7],[-1.6,.05],[-1.2,-.2],[-1.45,-.15],[-1,.25],[-1.7,1.05],[-1.4,-.5]];
const facetY80 = [[-2.85,1.7],[-2.5,2.2],[-2.45,1.4],[-2.4,1],[-2.35,.6],[-2.3,1.9],[-2.2,1.4],[-2.15,.9],[-2.05,2.4],[-2,2.2],[-2,1.6],[-1.95,1.2],[-1.9,.7],[-1.85,.1],[-1.8,.5],[-1.75,1.9],[-1.7,1.4],[-1.7,-.3],[-1.6,.9],[-1.55,-.6],[-1.5,.2],[-1.45,1.7],[-1.4,.5],[-1.35,-1.05],[-1.35,-.3],[-1.3,.8],[-1.3,.1],[-1.2,-.6],[-1.15,2.1],[-1.15,.4],[-1.1,-.1],[-1,-.8],[-1,.6],[-.95,-.35],[-.9,1.1],[-.85,.2],[-.7,.9],[-.7,.4],[-.65,-.5],[-.6,.1],[-.5,.65],[-.5,-.05],[-.4,.35],[.1,.1],[-1.6,-.1],[-1.25,-.2],[-1.05,-.55],[-1.75,.05],[-2.05,.8],[-1.85,.9],[-1.5,1.1],[-.8,-.1],[-1.15,.85],[-1.4,-.5]];

const NS = "http://www.w3.org/2000/svg";
function make(parent, tag, attrs, text) {
  const el = document.createElementNS(NS, tag);
  for (const k in attrs) el.setAttribute(k, attrs[k]);
  if (text !== undefined) el.textContent = text;
  parent.appendChild(el);
  return el;
}

/* ---------- Panel A ---------- */
const heatData = [heatCPerfringens, heatPrevotella, heatLactobacillus, heatStaphylococcus, heatEnterococcus, heatEnterobacteriaceae, heatBFragilis, heatBifidobacterium, heatAtopobium, heatCLeptum, heatCCoccoides];
const heatLeft = 179, heatTop = 87, heatW = 821, heatH = 735;
function heatX(c) { return heatLeft + c * heatW / heatColumns.length; }
function heatY(r, n) { return heatTop + r * heatH / n; }
function heatColor(d) {
  const t = d / 10;
  if (t < 0.5) { const g = Math.round(255 * t * 2); return "rgb(" + g + "," + g + ",255)"; }
  const g = Math.round(255 * (1 - t) * 2);
  return "rgb(255," + g + "," + g + ")";
}
const heatG = document.getElementById("heat");
heatData.forEach(function (col, c) {
  for (let r = 0; r < col.length; r++) {
    const cell = make(heatG, "rect", {x: heatX(c), y: heatY(r, col.length), width: heatW / heatColumns.length + 0.3, height: heatH / col.length + 0.3, fill: heatColor(parseInt(col[r], 16)), "shape-rendering": "crispEdges"});
    
    
  }
});

/* ---------- Panel B ---------- */
const barColors = ["#4f81bd", "#c0504d", "#9bbb59", "#8064a2"];
const barSeries = [clusterAI, clusterAII, clusterBI, clusterBII];
const barLeft = 1445.5, barWidth = 230.5, barTop = 94, barStep = 68.3, barThick = 38;
function barScale(p) { return barLeft + p / 100 * barWidth; }
function barRow(i) { return barTop + i * barStep; }
function barLabelY(i) { return 105.4 + i * 68.56; }
const barG = document.getElementById("bars");
const gridBars = make(barG, "path", {d: (function () { let d = "M1444 60.5H1677"; for (let i = 0; i < ageGroups.length; i++) d += "M1444 " + (barRow(i) + barStep / 2) + "H1677"; return d; })(), stroke: "#d9d9d9", "stroke-width": 3, fill: "none"});


const barAxis = make(barG, "line", {x1: 1443.5, x2: 1443.5, y1: 60, y2: 947, stroke: "#d9d9d9", "stroke-width": 3.5});


ageGroups.forEach(function (g, i) {
  let acc = 0;
  barSeries.forEach(function (s, k) {
    if (s[i] > 0) {
      const seg = make(barG, "rect", {x: barScale(acc), y: barRow(i) - barThick / 2, width: barScale(acc + s[i]) - barScale(acc), height: barThick, fill: barColors[k]});
      
      
    }
    acc += s[i];
  });
  const lab = make(barG, "text", {"class": "bl", x: g === "Y18-19" ? 1416 : 1410, y: barLabelY(i) + (g === "Y18-19" ? 1.5 : 0), "text-anchor": "end"}, g);
  
  
});
const tick0 = make(barG, "text", {"class": "bl", x: 1432, y: 986, style: "font-size:37px"}, "0%");


const tick100 = make(barG, "text", {"class": "bl", x: 1632, y: 986, style: "font-size:37px"}, "100%");


const legendSwatchX = [1290, 1413, 1543, 1661.5];
clusterNames.forEach(function (n, k) {
  const sw = make(barG, "rect", {x: legendSwatchX[k], y: 1032, width: 38, height: 28, fill: barColors[k]});
  
  
  const t = make(barG, "text", {"class": "lg", x: legendSwatchX[k] + 46, y: 1063.5}, n);
  
  
});

/* ---------- Panel C ---------- */
function pcaX(u) { return 434.3 + 84.2 * u; }
function pcaY(v) { return 1577.7 - 79 * v; }
function pcaTickLabelX(u) { return 430.5 + 85.3 * u; }
function pcaTickLabelY(v) { return 1577 - 78 * v; }
const pcaG = document.getElementById("pca");
const pcaBg = make(pcaG, "rect", {x: 145, y: 1305, width: 710, height: 638, fill: "#ebebeb"});


for (let u = -3; u <= 4; u++) {
  const gl = make(pcaG, "line", {x1: pcaX(u), x2: pcaX(u), y1: 1305, y2: 1943, stroke: "#fff", "stroke-width": 2.4});
  
  
}
for (let v = -4; v <= 3; v++) {
  const gl = make(pcaG, "line", {x1: 145, x2: 855, y1: pcaY(v), y2: pcaY(v), stroke: "#fff", "stroke-width": 2.4});
  
  
}
pcaTicksX.forEach(function (t) {
  const l = make(pcaG, "text", {"class": "tk", x: pcaTickLabelX(t), y: 1987, "text-anchor": "middle"}, String(t));
  
  
});
pcaTicksY.forEach(function (t) {
  const l = make(pcaG, "text", {"class": "tk", x: 134, y: pcaTickLabelY(t) + 11, "text-anchor": "end"}, String(t));
  
  
});
infantPoints.forEach(function (p) {
  const c = make(pcaG, "circle", {cx: pcaX(p[0]), cy: pcaY(p[1]), r: 4, fill: "#00BFC4"});
  
  
});
adultPoints.forEach(function (p) {
  const c = make(pcaG, "circle", {cx: pcaX(p[0]), cy: pcaY(p[1]), r: 4, fill: "#F8766D"});
  
  
});
const defs = make(document.getElementById("fig"), "defs", {});
const marker = make(defs, "marker", {id: "ah", markerWidth: 8, markerHeight: 8, refX: 7, refY: 3, orient: "auto", markerUnits: "userSpaceOnUse"});
make(marker, "path", {d: "M0 0L7 3L0 6Z", fill: "#222"});
loadingNames.forEach(function (n, i) {
  const a = make(pcaG, "line", {x1: pcaX(0), y1: pcaY(0), x2: pcaX(loadingPC1[i]), y2: pcaY(loadingPC2[i]), stroke: "#222", "stroke-width": 1, "marker-end": "url(#ah)"});
  
  
});

/* ---------- Panel D ---------- */
const facetSeries = [facetD1, facetD3, facetD7, facetM1, facetM3, facetM6, facetY03, facetY0413, facetY1819, facetY2039, facetY4059, facetY6079, facetY80];
const facetIsAdult = [false, false, false, false, false, false, true, true, true, true, true, true, true];
const facetLefts = [986.8, 1158, 1329, 1500.6];
const facetTops = [1342, 1514.6, 1685.6, 1856.7];
const facetW = 165, facetH = 135.5;
function facetX(col, u) { return facetLefts[col] + 66.7 + 19.6 * u; }
function facetY(row, v) { return facetTops[row] + 58 - 18.1 * v; }
const facG = document.getElementById("facets");
facetNames.forEach(function (name, i) {
  const col = i % 4, row = Math.floor(i / 4);
  const L = facetLefts[col], T = facetTops[row];
  const bg = make(facG, "rect", {x: L, y: T, width: facetW, height: facetH, fill: "#fff"});
  
  
  for (let u = -3; u <= 4; u++) {
    const gl = make(facG, "line", {x1: facetX(col, u), x2: facetX(col, u), y1: T, y2: T + facetH, stroke: u % 2 === 0 ? "#e8e8e8" : "#f5f5f5", "stroke-width": u % 2 === 0 ? 1.3 : 0.8});
    
    
  }
  for (let v = -4; v <= 3; v++) {
    const gl = make(facG, "line", {x1: L, x2: L + facetW, y1: facetY(row, v), y2: facetY(row, v), stroke: v % 2 === 0 ? "#e8e8e8" : "#f5f5f5", "stroke-width": v % 2 === 0 ? 1.3 : 0.8});
    
    
  }
  facetSeries[i].forEach(function (p) {
    const c = make(facG, "circle", {cx: facetX(col, p[0]), cy: facetY(row, p[1]), r: 3, fill: facetIsAdult[i] ? "#F8766D" : "#00BFC4"});
    
    
  });
  const frame = make(facG, "rect", {x: L, y: T, width: facetW, height: facetH, fill: "none", stroke: "#8a8a8a", "stroke-width": 1.3});
  
  
  const strip = make(facG, "rect", {x: L, y: T - 30, width: facetW, height: 30, fill: "#cccccc", stroke: "#8a8a8a", "stroke-width": 1.3});
  
  
  const st = make(facG, "text", {x: L + facetW / 2, y: T - 9.5, "text-anchor": "middle", "font-size": 15, fill: "#222"}, name);
  
  
  if (col === 0) {
    facetTicksY.forEach(function (t) {
      const l = make(facG, "text", {x: L - 9, y: facetY(row, t) + 5.5, "text-anchor": "end", "font-size": 15, fill: "#222"}, String(t));
      
      
      const m = make(facG, "line", {x1: L - 4, x2: L, y1: facetY(row, t), y2: facetY(row, t), stroke: "#333", "stroke-width": 1});
      
      
    });
  }
  if (i === 12) {
    facetTicksX.forEach(function (t) {
      const l = make(facG, "text", {x: facetX(col, t) - 1, y: T + facetH + 21, "text-anchor": "middle", "font-size": 15, fill: "#222"}, String(t));
      
      
      const m = make(facG, "line", {x1: facetX(col, t), x2: facetX(col, t), y1: T + facetH, y2: T + facetH + 4, stroke: "#333", "stroke-width": 1});
      
      
    });
  }
});
</script>
</body>
</html>
